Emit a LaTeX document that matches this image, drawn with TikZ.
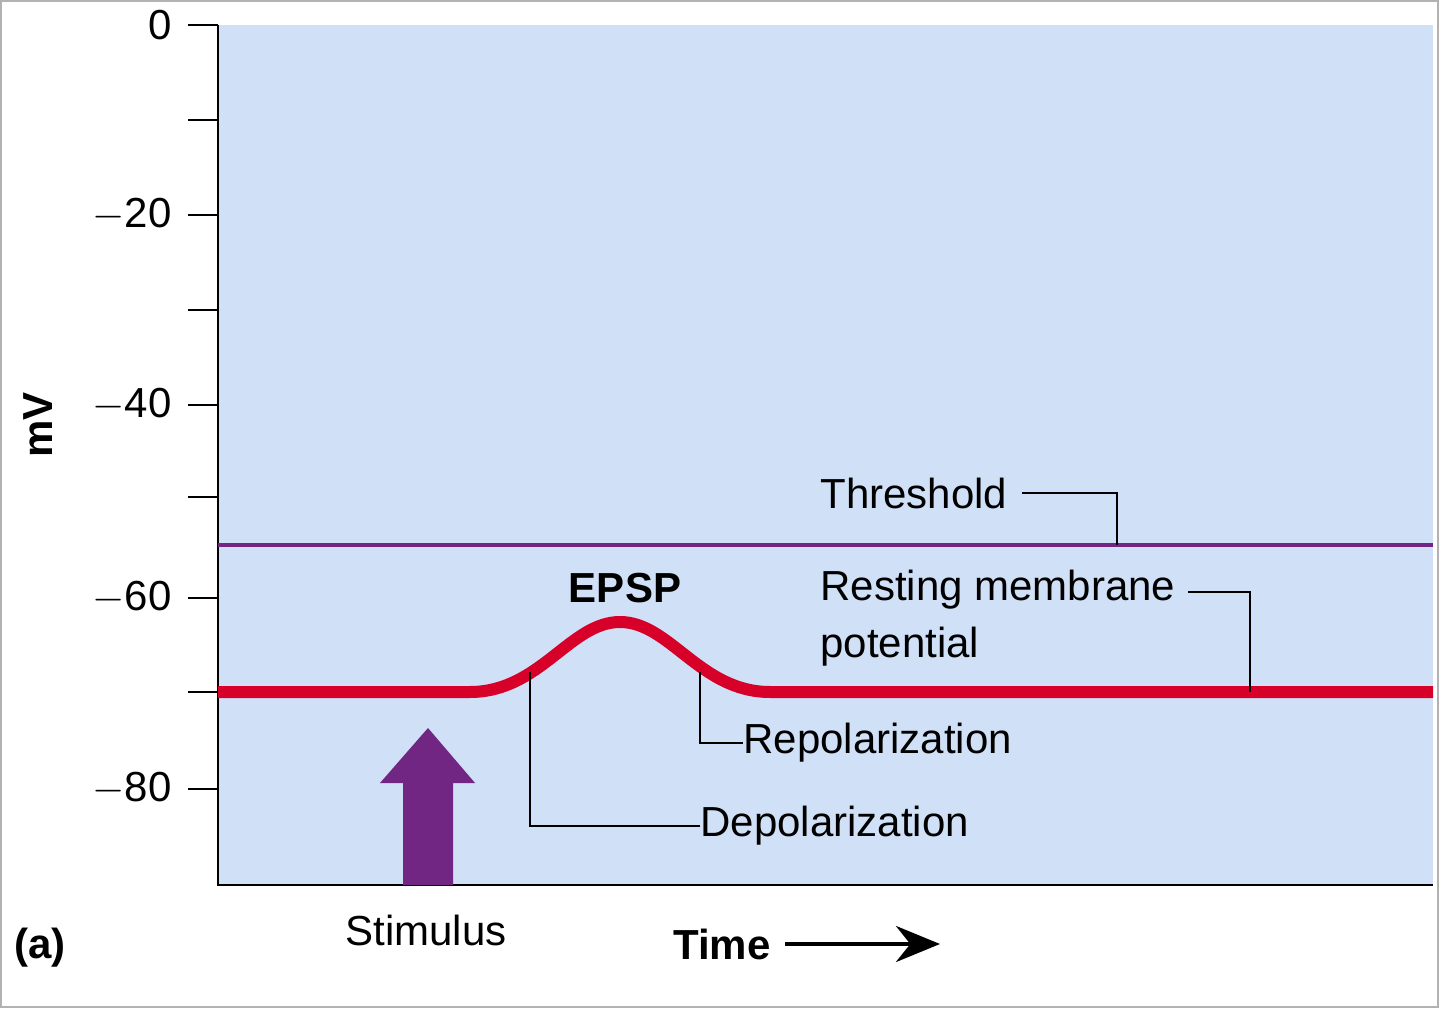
\documentclass[tikz,border=0pt]{standalone}
\usepackage{fontspec}
\usetikzlibrary{arrows.meta}
\setmainfont{Liberation Sans}
\begin{document}
\begin{tikzpicture}[x=0.5pt,y=-0.5pt,
  lbl/.style={font=\fontsize{21}{25}\selectfont,inner sep=0pt},
  blbl/.style={lbl,font=\fontsize{21}{25}\selectfont\bfseries},
  lead/.style={black,line width=1.2pt}]
\definecolor{bg}{RGB}{208,224,246}
\definecolor{pur}{RGB}{112,38,130}
\definecolor{red1}{RGB}{214,0,40}
\useasboundingbox (0,0) rectangle (1440,1010);
\fill[white] (0,0) rectangle (1440,1010);
\draw[gray!60,line width=0.8pt] (1,1) rectangle (1438,1007);
\fill[bg] (218,25) rectangle (1433,885);
\draw[line width=1.3pt] (218,25) -- (218,885) -- (1433,885);
\foreach \y/\t in {25/0,215/$-$20,405/$-$40,598/$-$60,789/$-$80}{
  \draw[line width=1.3pt] (188,\y) -- (218,\y);
  \node[lbl,anchor=east] at (172,\y) {\t};}
\foreach \y in {120,310,497,692}{\draw[line width=1.3pt] (188,\y) -- (218,\y);}
\node[blbl,rotate=90] (mv) at (38,425) {mV};
\draw[pur,line width=2pt] (218,545) -- (1433,545);
\draw[red1,line width=6pt] (218,692) -- (470,692) .. controls (540,692) and (570,622) .. (620,622) .. controls (670,622) and (700,692) .. (770,692) -- (1433,692);
\fill[pur] (403,885) -- (403,783) -- (380,783) -- (428,728) -- (475,783) -- (453,783) -- (453,885) -- cycle;
\node[lbl] (stim) at (426,930) {Stimulus};
\node[blbl] (epsp) at (625,588) {EPSP};
\node[lbl,anchor=west] (thr) at (820,493) {Threshold};
\draw[lead] (1022,493) -- (1117,493) -- (1117,545);
\node[lbl,anchor=west] (rest) at (820,590) {Resting membrane};
\node[lbl,anchor=west] (pot) at (820,647) {potential};
\draw[lead] (1188,592) -- (1250,592) -- (1250,692);
\node[lbl,anchor=west] (rep) at (743,743) {Repolarization};
\draw[lead] (700,672) -- (700,743) -- (rep.west);
\node[lbl,anchor=west] (dep) at (700,826) {Depolarization};
\draw[lead] (530,672) -- (530,826) -- (dep.west);
\node[blbl] (time) at (722,944) {Time};
\coordinate (tend) at (940,944);
\draw[line width=2.2pt,-{Stealth[length=22pt,width=18pt]}] (785,944) -- (tend);
\node[blbl] (a) at (40,948) {(a)};
\end{tikzpicture}
\end{document}
